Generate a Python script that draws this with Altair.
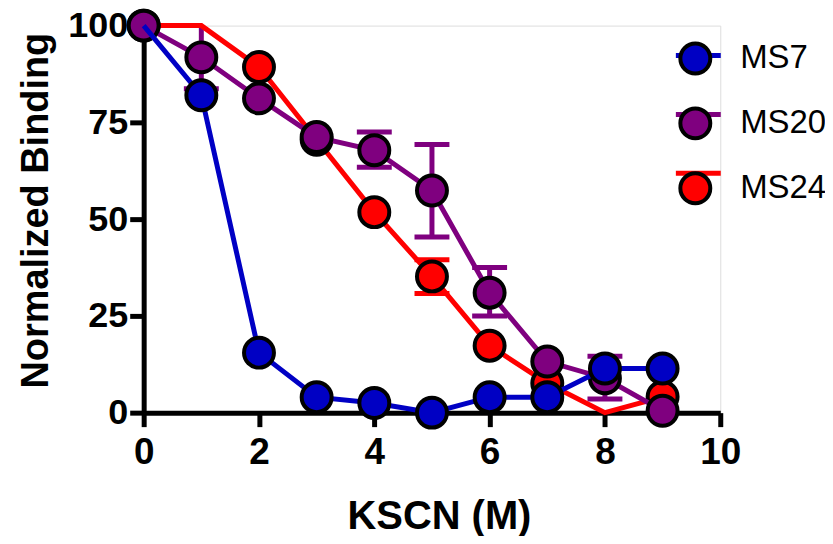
import altair as alt
import pandas as pd

# ---- data ----
kscn = [0, 1, 2, 3, 4, 5, 6, 7, 8, 9]
ms7 = [100, 82, 15.5, 4, 2.5, 0, 4, 4, 11.4, 11.4]
ms20 = [100, 91.8, 81.2, 71.2, 67.8, 57.4, 31, 13.2, 8.9, 0.5]
ms24 = [100, 100, 89.3, 70.5, 51.8, 35.2, 17.3, 7.6, 0, 4.1]

# error bars (only those visible beyond markers)
err_series = ["MS20", "MS20", "MS20", "MS20", "MS20", "MS24"]
err_x = [1, 4, 5, 6, 8, 5]
err_lo = [83.7, 63.4, 45.4, 25.0, 3.5, 30.8]
err_hi = [101.5, 72.5, 69.3, 37.5, 14.6, 39.5]

# markers not drawn in the reference
hidden = [("MS7", 0), ("MS24", 1), ("MS24", 8)]

series_names = ["MS7", "MS20", "MS24"]
series_colors = ["#0000c4", "#7f007f", "#ff0000"]
x_ticks = [0, 2, 4, 6, 8, 10]
y_ticks = [0, 25, 50, 75, 100]

# fill legend uses a separate (space-suffixed) domain so Vega-Lite keeps two legends
fill_names = [n + " " for n in series_names]

rows = []
for name, vals in zip(series_names, [ms7, ms20, ms24]):
    for xv, yv in zip(kscn, vals):
        rows.append({"series": name, "series_f": name + " ", "x": xv, "y": yv,
                     "show": (name, xv) not in hidden})
df = pd.DataFrame(rows)
edf = pd.DataFrame({"series": err_series, "x": err_x, "lo": err_lo, "hi": err_hi})

FONT = "Liberation Sans, Arial, sans-serif"

xs = alt.Scale(domain=[0, 10], nice=False, zero=False)
ys = alt.Scale(domain=[0, 100], nice=False)

xaxis = alt.Axis(values=x_ticks, format="d", title="KSCN (M)", grid=False,
                 domainColor="black", domainWidth=5, tickColor="black", tickWidth=5,
                 tickSize=14, labelFont=FONT, labelFontSize=37, labelFontWeight="bold",
                 labelColor="black", labelPadding=8, labelFlush=False,
                 titleFont=FONT, titleFontSize=40, titleFontWeight="bold", titleColor="black",
                 titleX=296, titleY=116, titleBaseline="alphabetic")
yaxis = alt.Axis(values=y_ticks, format="d", title="Normalized Binding", grid=False,
                 domainColor="black", domainWidth=5, tickColor="black", tickWidth=5,
                 tickSize=14, labelFont=FONT, labelFontSize=36, labelFontWeight="bold",
                 labelColor="black", labelPadding=2, labelFlush=False,
                 titleFont=FONT, titleFontSize=38, titleFontWeight="bold", titleColor="black",
                 titleX=-96, titleY=185, titleAngle=270, titleBaseline="alphabetic")

stroke_scale = alt.Scale(domain=series_names, range=series_colors)
fill_scale = alt.Scale(domain=fill_names, range=series_colors)

stroke_legend = alt.Legend(title=None, orient="none", legendX=531, legendY=5,
                           symbolType="stroke", symbolSize=2025, symbolStrokeWidth=5,
                           labelFont=FONT, labelFontSize=32, labelExpr="''",
                           rowPadding=18, labelOffset=16)
fill_legend = alt.Legend(title=None, orient="none", legendX=536, legendY=16,
                         symbolType="circle", symbolSize=900, symbolStrokeColor="black",
                         symbolStrokeWidth=4, symbolOpacity=1,
                         labelFont=FONT, labelFontSize=33, labelColor="black",
                         rowPadding=19, labelOffset=28)

base = alt.Chart(df)
layers = []

# error bars first
for name, col in zip(series_names, series_colors):
    eb = alt.Chart(edf).transform_filter(alt.datum.series == name)
    layers.append(eb.mark_rule(strokeWidth=5, clip=True, color=col).encode(
        x=alt.X("x:Q", scale=xs, axis=xaxis), y=alt.Y("lo:Q", scale=ys, axis=yaxis), y2="hi:Q"))
    layers.append(eb.mark_tick(orient="horizontal", size=35, thickness=5, clip=True,
                               color=col, opacity=1).encode(
        x=alt.X("x:Q", scale=xs), y=alt.Y("lo:Q", scale=ys)))
    layers.append(eb.mark_tick(orient="horizontal", size=35, thickness=5, clip=True,
                               color=col, opacity=1).encode(
        x=alt.X("x:Q", scale=xs), y=alt.Y("hi:Q", scale=ys)))

for name in ["MS24", "MS20", "MS7"]:
    sub = base.transform_filter(alt.datum.series == name)
    layers.append(sub.mark_line(strokeWidth=5).encode(
        x=alt.X("x:Q", scale=xs, axis=xaxis),
        y=alt.Y("y:Q", scale=ys, axis=yaxis),
        stroke=alt.Stroke("series:N", scale=stroke_scale, legend=stroke_legend),
    ))
    layers.append(sub.transform_filter(alt.datum.show).mark_point(
        shape="circle", filled=True, size=900, stroke="black", strokeWidth=4, opacity=1).encode(
        x=alt.X("x:Q", scale=xs),
        y=alt.Y("y:Q", scale=ys),
        fill=alt.Fill("series_f:N", scale=fill_scale, legend=fill_legend),
    ))

chart = alt.layer(*layers).properties(
    width=578, height=388,
    autosize=alt.AutoSizeParams(type="none"),
    padding={"left": 136, "top": 17, "right": 105, "bottom": 123},
).configure_view(stroke=None).configure(background="white")

chart.save("out.html", embed_options={"renderer": "svg", "actions": False})
